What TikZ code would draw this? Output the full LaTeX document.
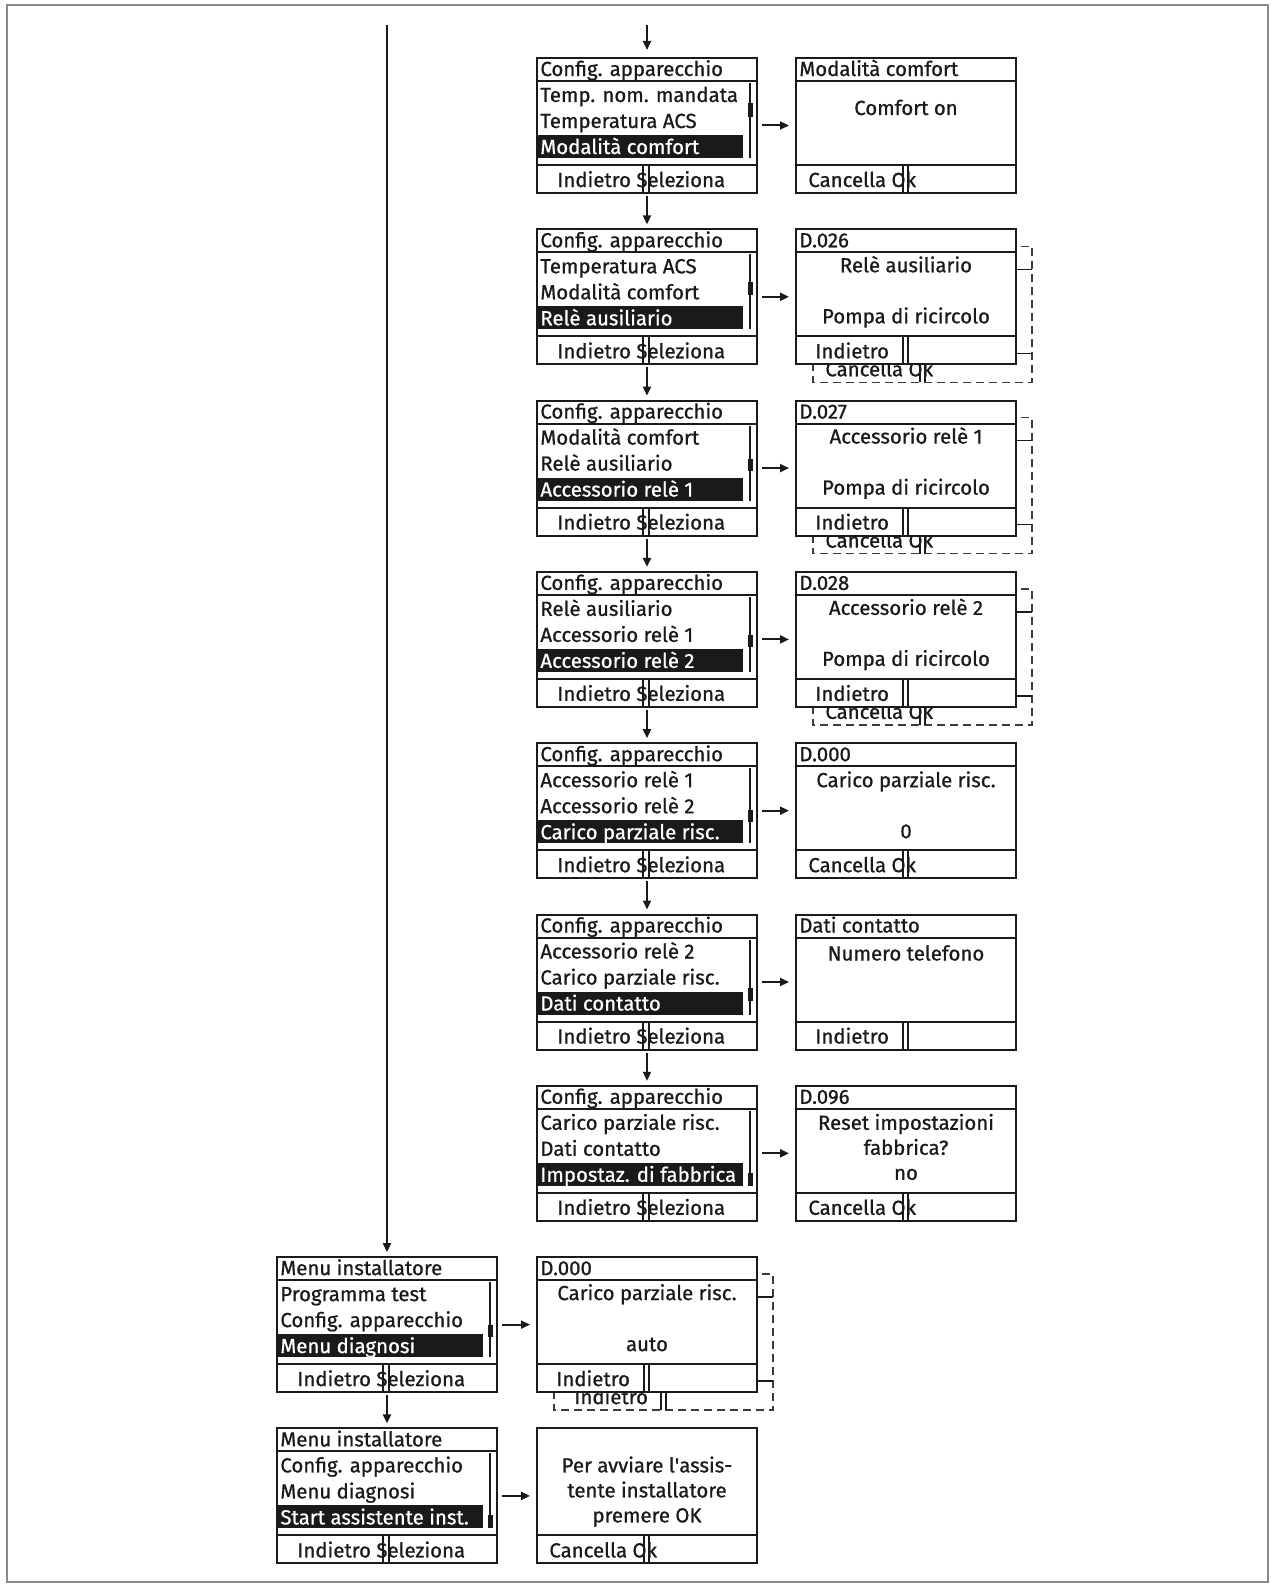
\documentclass[tikz,border=0pt]{standalone}
\usepackage{fontspec}
\setmainfont{Fira Sans}[RawFeature={embolden=0.8}]
\usetikzlibrary{arrows.meta}
\definecolor{frame}{HTML}{8A8A8A}
\definecolor{ink}{HTML}{1A1A1A}
\tikzset{
  ln/.style={line width=1pt, draw=ink},
  scrbox/.style={draw=ink, line width=1pt, fill=white, inner sep=0pt, outer sep=0pt,
    minimum width=110pt, minimum height=67.5pt},
  txt/.style={anchor=base west, inner sep=0pt, text=ink, font=\fontsize{10.2}{12}\selectfont},
  bodytxt/.style={anchor=base, inner sep=0pt, text=ink, font=\fontsize{10.2}{12}\selectfont},
  ghostline/.style={draw=ink!85, line width=0.8pt, dash pattern=on 4pt off 2.5pt},
  arr/.style={draw=ink, line width=1pt, -{Triangle[length=4.5pt,width=4pt]}},
}
% menu screen: name, x, y, title, row1, row2, row3 (highlighted), thumb top, thumb bottom
\newcommand\menubox[9]{%
  \begin{scope}[shift={(#2,#3)}]
    \node[scrbox] (#1) at (110,67.5) {};
    \fill[ink] (0,77) rectangle (206,100);
    \draw[ln] (0,23) -- (220,23);
    \node[txt] (#1-t) at (3,18) {#4};
    \node[txt] (#1-a) at (3,44) {#5};
    \node[txt] (#1-b) at (3,70) {#6};
    \node[txt, text=white] (#1-c) at (3,96) {#7};
    \draw[ln] (213,25) -- (213,100);
    \fill[ink] (210.5,#8) rectangle (215.5,#9);
    \draw[ln] (0,107) -- (220,107) (106,107) -- (106,135) (112,107) -- (112,135);
    \node[txt] (#1-d) at (20,129) {Indietro Seleziona};
  \end{scope}}
% detail screen: name, x, y, title (empty = none), button text, button x, body code
\newcommand\detbox[7]{%
  \begin{scope}[shift={(#2,#3)}]
    \node[scrbox] (#1) at (110,67.5) {};
    \if\relax\detokenize{#4}\relax\else
      \draw[ln] (0,23) -- (220,23);
      \node[txt] (#1-t) at (3,18) {#4};
    \fi
    \draw[ln] (0,107) -- (220,107) (107,107) -- (107,135) (112,107) -- (112,135);
    \node[txt] (#1-d) at (#6,129) {#5};
    #7
  \end{scope}}
% body line: name, base y, text (inside a detbox)
\newcommand\bodyline[3]{\node[bodytxt] (#1) at (110,#2) {#3};}
% dashed copy behind a detail screen: name, x, y, button text, button x
\newcommand\ghostbox[5]{%
  \begin{scope}[shift={(#2,#3)}]
    \draw[ghostline] (17,17) rectangle (236,153);
    \draw[ln, line width=0.8pt] (17,40) -- (236,40) (17,124) -- (236,124)
      (124,124) -- (124,153) (129,124) -- (129,153);
    \node[txt] (#1) at (#5,147) {#4};
  \end{scope}}

\begin{document}
\begin{tikzpicture}[x=0.5pt, y=-0.5pt]
\useasboundingbox (0,0) rectangle (1270,1584);
\draw[draw=frame, line width=1pt] (7,5) rectangle (1268,1582);

% dashed copies (behind)
\ghostbox{g1}{796}{229.3}{Cancella Ok}{29}
\ghostbox{g2}{796}{400.6}{Cancella Ok}{29}
\ghostbox{g3}{796}{571.9}{Cancella Ok}{29}
\ghostbox{g7}{537}{1257.1}{Indietro}{37}

% middle column menus
\menubox{c0}{537}{58}{Config. apparecchio}{Temp. nom. mandata}{Temperatura ACS}{Modalità comfort}{45}{59}
\menubox{c1}{537}{229.3}{Config. apparecchio}{Temperatura ACS}{Modalità comfort}{Relè ausiliario}{53}{66}
\menubox{c2}{537}{400.6}{Config. apparecchio}{Modalità comfort}{Relè ausiliario}{Accessorio relè 1}{58}{70}
\menubox{c3}{537}{571.9}{Config. apparecchio}{Relè ausiliario}{Accessorio relè 1}{Accessorio relè 2}{63}{75}
\menubox{c4}{537}{743.2}{Config. apparecchio}{Accessorio relè 1}{Accessorio relè 2}{Carico parziale risc.}{67}{79}
\menubox{c5}{537}{914.5}{Config. apparecchio}{Accessorio relè 2}{Carico parziale risc.}{Dati contatto}{73}{86}
\menubox{c6}{537}{1085.8}{Config. apparecchio}{Carico parziale risc.}{Dati contatto}{Impostaz. di fabbrica}{87}{100}

% left column menus
\menubox{m7}{277}{1257.1}{Menu installatore}{Programma test}{Config. apparecchio}{Menu diagnosi}{68}{80}
\menubox{m8}{277}{1428.4}{Menu installatore}{Config. apparecchio}{Menu diagnosi}{Start assistente inst.}{87}{100}

% detail screens
\detbox{r0}{796}{58}{Modalità comfort}{Cancella Ok}{12}{\bodyline{r0-1}{57}{Comfort on}}
\detbox{r1}{796}{229.3}{D.026}{Indietro}{19}{\bodyline{r1-1}{43}{Relè ausiliario}\bodyline{r1-2}{94}{Pompa di ricircolo}}
\detbox{r2}{796}{400.6}{D.027}{Indietro}{19}{\bodyline{r2-1}{43}{Accessorio relè 1}\bodyline{r2-2}{94}{Pompa di ricircolo}}
\detbox{r3}{796}{571.9}{D.028}{Indietro}{19}{\bodyline{r3-1}{43}{Accessorio relè 2}\bodyline{r3-2}{94}{Pompa di ricircolo}}
\detbox{r4}{796}{743.2}{D.000}{Cancella Ok}{12}{\bodyline{r4-1}{44}{Carico parziale risc.}\bodyline{r4-2}{95}{0}}
\detbox{r5}{796}{914.5}{Dati contatto}{Indietro}{19}{\bodyline{r5-1}{46}{Numero telefono}}
\detbox{r6}{796}{1085.8}{D.096}{Cancella Ok}{12}{\bodyline{r6-1}{44}{Reset impostazioni}\bodyline{r6-2}{69}{fabbrica?}\bodyline{r6-3}{94}{no}}
\detbox{r7}{537}{1257.1}{D.000}{Indietro}{19}{\bodyline{r7-1}{43}{Carico parziale risc.}\bodyline{r7-2}{94}{auto}}
\detbox{r8}{537}{1428.4}{}{Cancella Ok}{12}{\bodyline{r8-1}{44}{Per avviare l\textquotesingle assis-}\bodyline{r8-2}{69}{tente installatore}\bodyline{r8-3}{94}{premere OK}}

% entry points
\coordinate (inC) at (647,25);
\coordinate (inL) at (387,25);
\draw[arr, shorten >=4pt] (inC) -- (c0.north);
\draw[arr, shorten >=2.5pt] (inL) -- (m7.north);

% vertical arrows
\foreach \a/\b in {c0/c1,c1/c2,c2/c3,c3/c4,c4/c5,c5/c6,m7/m8}
  \draw[arr, shorten <=1.5pt, shorten >=2.5pt] (\a.south) -- (\b.north);

% horizontal arrows
\foreach \a/\b in {c0/r0,c1/r1,c2/r2,c3/r3,c4/r4,c5/r5,c6/r6,m7/r7,m8/r8}
  \draw[arr, shorten <=2.5pt, shorten >=3.5pt] (\a.east) -- (\b.west);
\end{tikzpicture}
\end{document}
